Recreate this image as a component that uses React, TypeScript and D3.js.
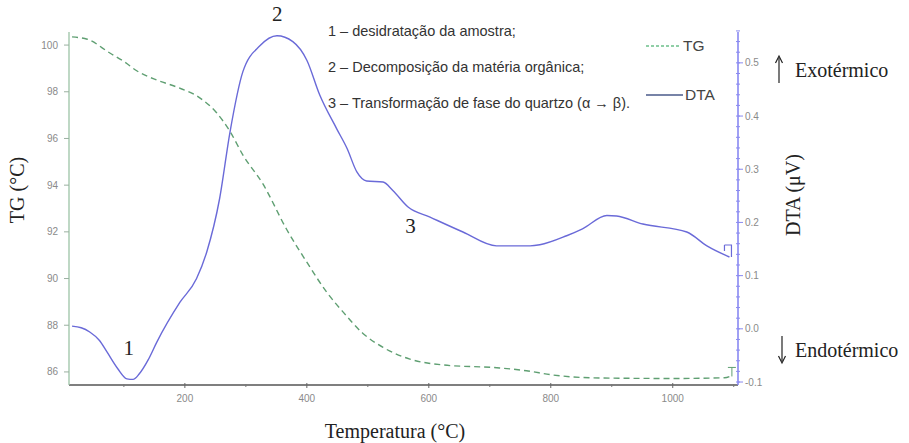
import React from "react";
import * as d3 from "d3";

// Thermogravimetric (TG) curve: temperature (°C) and value
const tgTemp = [15, 40, 77, 100, 121, 154, 187, 225, 252, 274, 295, 328, 367, 400, 433, 460, 492, 525, 569, 623, 716, 760, 803, 880, 1000, 1085, 1097];
const tgValue = [100.35, 100.25, 99.66, 99.3, 98.9, 98.5, 98.2, 97.73, 97.1, 96.3, 95.3, 94.05, 92.1, 90.7, 89.4, 88.55, 87.65, 87.05, 86.55, 86.3, 86.17, 86.05, 85.87, 85.74, 85.72, 85.75, 85.85];

// Differential thermal analysis (DTA) curve
const dtaTemp = [15, 30, 44, 60, 72, 90, 105, 115, 125, 140, 154, 192, 219, 236, 257, 274, 295, 323, 351, 377, 400, 421, 449, 466, 482, 498, 525, 541, 566, 602, 656, 711, 766, 782, 826, 852, 892, 908, 951, 1023, 1056, 1093];
const dtaValue = [0.005, 0.002, -0.006, -0.022, -0.043, -0.075, -0.094, -0.095, -0.085, -0.058, -0.025, 0.05, 0.094, 0.145, 0.245, 0.37, 0.483, 0.532, 0.551, 0.54, 0.505, 0.44, 0.376, 0.339, 0.295, 0.278, 0.276, 0.26, 0.229, 0.21, 0.182, 0.156, 0.156, 0.158, 0.175, 0.188, 0.213, 0.212, 0.197, 0.182, 0.156, 0.135];

const tempTicks = [200, 400, 600, 800, 1000];
const tempMinorTicks = [100, 300, 500, 700, 900, 1100];
const tgTicks = [86, 88, 90, 92, 94, 96, 98, 100];
const dtaTicks = [-0.1, 0, 0.1, 0.2, 0.3, 0.4, 0.5];

const eventLabels = ["1", "2", "3"];
const eventTemp = [108, 350, 570];
const eventNotes = [
  "1 – desidratação da amostra;",
  "2 – Decomposição da matéria orgânica;",
  "3 – Transformação de fase do quartzo (α → β).",
];

const W = 909;
const H = 443;
const left = 69;
const right = 738;
const top = 32;
const bottom = 385;

const tgColor = "#5f9f72";
const dtaColor = "#6a6ad8";
const tickColor = "#8a8a8a";
const serif = "'Liberation Serif', 'Times New Roman', serif";
const sans = "'Liberation Sans', Arial, sans-serif";

export default function App() {
  const x = d3.scaleLinear().domain([10, 1107]).range([left, right]);
  const yTG = d3.scaleLinear().domain([85.44, 100.56]).range([bottom, top]);
  const yDTA = d3.scaleLinear().domain([-0.1056, 0.558]).range([bottom, top]);

  const tgPts: [number, number][] = tgTemp.map((t, i) => [t, tgValue[i]]);
  const dtaPts: [number, number][] = dtaTemp.map((t, i) => [t, dtaValue[i]]);

  const tgLine = d3
    .line<[number, number]>()
    .x((d) => x(d[0]))
    .y((d) => yTG(d[1]))
    .curve(d3.curveMonotoneX);
  const dtaLine = d3
    .line<[number, number]>()
    .x((d) => x(d[0]))
    .y((d) => yDTA(d[1]))
    .curve(d3.curveMonotoneX);

  const dtaMinor = d3.range(-0.1, 0.5601, 0.02);

  const tgEnd = tgPts[tgPts.length - 1];
  const dtaEnd = dtaPts[dtaPts.length - 1];

  // label positions for the numbered thermal events
  const eventPos = [
    { x: x(eventTemp[0]), y: yDTA(-0.05) },
    { x: x(eventTemp[1]) + 1, y: yDTA(0.578) },
    { x: x(eventTemp[2]), y: yDTA(0.18) },
  ];

  return (
    <svg
      width={W}
      height={H}
      style={{ position: "absolute", left: 0, top: 0, background: "#fff" }}
    >
      <rect x={0} y={0} width={W} height={H} fill="#fff" />

      {/* bottom axis */}
      <line x1={left} x2={right} y1={bottom} y2={bottom} stroke="#555" strokeWidth={1.3} />
      {tempTicks.map((t) => (
        <g key={"tt" + t}>
          <line x1={x(t)} x2={x(t)} y1={bottom - 2} y2={bottom + 3} stroke="#666" />
          <text x={x(t)} y={bottom + 17} textAnchor="middle" fontSize={10} fontFamily={sans} fill={tickColor}>
            {t}
          </text>
        </g>
      ))}
      {tempMinorTicks.map((t) => (
        <line key={"tm" + t} x1={x(t)} x2={x(t)} y1={bottom - 1} y2={bottom + 2} stroke="#777" />
      ))}

      {/* left axis (TG) */}
      <line x1={left} x2={left} y1={top} y2={bottom} stroke="#9cc3a6" strokeWidth={1.3} />
      {tgTicks.map((v) => (
        <g key={"tg" + v}>
          <line x1={left - 5} x2={left} y1={yTG(v)} y2={yTG(v)} stroke="#9ab0a0" />
          <text x={left - 11} y={yTG(v) + 3.5} textAnchor="end" fontSize={10} fontFamily={sans} fill={tickColor}>
            {v}
          </text>
        </g>
      ))}

      {/* right axis (DTA) */}
      <line x1={right} x2={right} y1={top} y2={bottom} stroke="#8080f0" strokeWidth={1.5} />
      {dtaMinor.map((v, i) => (
        <line key={"dm" + i} x1={right - 2} x2={right + 2} y1={yDTA(v)} y2={yDTA(v)} stroke="#8a8af0" />
      ))}
      {dtaTicks.map((v) => (
        <g key={"dt" + v}>
          <line x1={right} x2={right + 5} y1={yDTA(v)} y2={yDTA(v)} stroke="#8a8af0" />
          <text x={right + 7} y={yDTA(v) + 3.5} textAnchor="start" fontSize={10} fontFamily={sans} fill={tickColor}>
            {v < 0 ? "-" + Math.abs(v).toFixed(1) : v.toFixed(1)}
          </text>
        </g>
      ))}

      {/* curves */}
      <path d={tgLine(tgPts) || ""} fill="none" stroke={tgColor} strokeWidth={1.4} strokeDasharray="6,4" />
      <path d={dtaLine(dtaPts) || ""} fill="none" stroke={dtaColor} strokeWidth={1.4} />

      {/* end-of-curve markers */}
      <path
        d={`M${x(tgEnd[0]) - 4},${yTG(tgEnd[1]) - 8} h8 M${x(tgEnd[0])},${yTG(tgEnd[1]) - 8} v9`}
        stroke={tgColor}
        fill="none"
        strokeWidth={1}
      />
      <path
        d={`M${x(dtaEnd[0]) - 5},${yDTA(dtaEnd[1]) - 12} h7 v12 M${x(dtaEnd[0]) - 5},${yDTA(dtaEnd[1]) - 12} v6`}
        stroke={dtaColor}
        fill="none"
        strokeWidth={1.2}
      />

      {/* numbered events */}
      {eventLabels.map((l, i) => (
        <text key={"ev" + l} x={eventPos[i].x} y={eventPos[i].y} textAnchor="middle" fontSize={21} fontFamily={serif} fill="#222">
          {l}
        </text>
      ))}

      {/* event descriptions */}
      {eventNotes.map((n, i) => (
        <text key={"note" + i} x={328} y={36 + i * 36} fontSize={14.5} fontFamily={sans} fill="#333">
          {n}
        </text>
      ))}

      {/* legend */}
      <line x1={646} x2={680} y1={46} y2={46} stroke="#6cc08a" strokeWidth={1.5} strokeDasharray="3,2" />
      <text x={683} y={51} fontSize={15.5} fontFamily={sans} fill="#444">TG</text>
      <line x1={646} x2={683} y1={95} y2={95} stroke="#4a5a8a" strokeWidth={1.6} />
      <text x={685} y={100} fontSize={15.5} fontFamily={sans} fill="#444">DTA</text>

      {/* axis titles */}
      <text x={395} y={438} textAnchor="middle" fontSize={20} fontFamily={serif} fill="#222">
        Temperatura (°C)
      </text>
      <text transform="translate(24,190) rotate(-90)" textAnchor="middle" fontSize={20} fontFamily={serif} fill="#222">
        TG (°C)
      </text>
      <text transform="translate(800,195) rotate(-90)" textAnchor="middle" fontSize={20} fontFamily={serif} fill="#222">
        DTA (μV)
      </text>

      {/* heat-flow direction notes */}
      <line x1={779} x2={779} y1={83} y2={58} stroke="#222" strokeWidth={1.2} />
      <path d="M775.5,63 L779,56 L782.5,63" fill="none" stroke="#222" strokeWidth={1.2} />
      <text x={795} y={77} fontSize={20} fontFamily={serif} fill="#222">Exotérmico</text>

      <line x1={782} x2={782} y1={336} y2={361} stroke="#222" strokeWidth={1.2} />
      <path d="M778.5,356 L782,363 L785.5,356" fill="none" stroke="#222" strokeWidth={1.2} />
      <text x={795} y={357} fontSize={20} fontFamily={serif} fill="#222">Endotérmico</text>
    </svg>
  );
}
